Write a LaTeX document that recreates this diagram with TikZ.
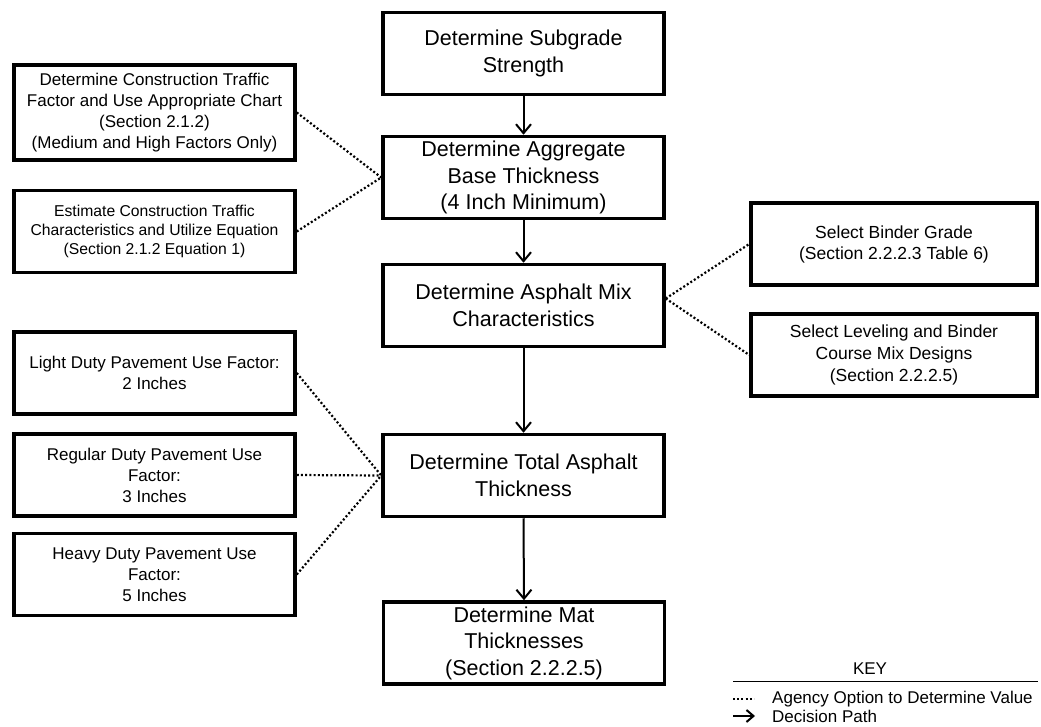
\documentclass[tikz,border=0pt]{standalone}
\usepackage{fontspec}
\setmainfont{Liberation Sans}
\usetikzlibrary{arrows.meta,calc}
\tikzset{
  mainbox/.style={draw, line width=3.5pt, minimum width=281pt, minimum height=82pt, align=center, inner sep=0pt,
    font=\fontsize{21.5}{26.5}\selectfont},
  sidebox/.style={draw, line width=3.5pt, minimum width=281pt, minimum height=82pt, align=center, inner sep=0pt,
    font=\fontsize{17}{21}\selectfont},
  optline/.style={line width=2.2pt, dash pattern=on 2pt off 2.2pt},
  pathline/.style={line width=2pt, -{Straight Barb[length=9pt,width=15pt]}},
  keytext/.style={anchor=west, inner sep=0pt, font=\fontsize{17}{20}\selectfont}
}
\begin{document}
\begin{tikzpicture}[x=1pt,y=-1pt]
\fill[white] (0,0) rectangle (1041,727);
\useasboundingbox (0,0) rectangle (1041,727);

% main column
\node[mainbox] (sub) at (523.5,53.5) {Determine Subgrade\\Strength};
\node[mainbox] (agg) at (523.5,177.5) {Determine Aggregate\\Base Thickness\\(4 Inch Minimum)};
\node[mainbox] (mix) at (523.5,305.5) {Determine Asphalt Mix\\Characteristics};
\node[mainbox] (tot) at (523.5,475.5) {Determine Total Asphalt\\Thickness};
\node[mainbox] (mat) at (524,643) {Determine Mat\\Thicknesses\\(Section 2.2.2.5)};

% left column
\node[sidebox, minimum height=95pt] (ctf) at (154.5,112.5) {Determine Construction Traffic\\Factor and Use Appropriate Chart\\(Section 2.1.2)\\(Medium and High Factors Only)};
\node[sidebox, font=\fontsize{15.7}{19}\selectfont] (ect) at (154.5,231.5) {Estimate Construction Traffic\\Characteristics and Utilize Equation\\(Section 2.1.2 Equation 1)};
\node[sidebox] (light) at (154.5,373) {Light Duty Pavement Use Factor:\\2 Inches};
\node[sidebox] (reg) at (154.5,475) {Regular Duty Pavement Use\\Factor:\\3 Inches};
\node[sidebox] (heavy) at (154.5,574.5) {Heavy Duty Pavement Use\\Factor:\\5 Inches};

% right column
\node[sidebox, minimum width=286pt, font=\fontsize{17.5}{21}\selectfont] (bind) at (894,244) {Select Binder Grade\\(Section 2.2.2.3 Table 6)};
\node[sidebox, minimum width=286pt, font=\fontsize{17.5}{22}\selectfont] (lev) at (894,355) {Select Leveling and Binder\\Course Mix Designs\\(Section 2.2.2.5)};

% decision path
\draw[pathline] (sub) -- (agg);
\draw[pathline] (agg) -- (mix);
\draw[pathline] (mix) -- (tot);
\draw[pathline] (tot.south) -- (mat.north);

% agency options
\coordinate (mixr) at ($(mix.east)+(0,-7)$);
\draw[optline] (ctf.east) -- (agg.west);
\draw[optline] (ect.east) -- (agg.west);
\draw[optline] (mixr) -- (bind.west);
\draw[optline] (mixr) -- (lev.west);
\draw[optline] (light.east) -- (tot.west);
\draw[optline] (reg.east) -- (tot.west);
\draw[optline] (heavy.east) -- (tot.west);

% key
\node[inner sep=0pt, font=\fontsize{17}{20}\selectfont] (keyt) at (870,669) {KEY};
\coordinate (kl) at (733,681);
\coordinate (kr) at (1038,681);
\draw[line width=1pt] (kl) -- (kr);
\coordinate (d1) at (733,699);
\coordinate (d2) at (754,699);
\draw[optline] (d1) -- (d2);
\node[keytext] (ktxt1) at (772,699) {Agency Option to Determine Value};
\coordinate (a1) at (733,716);
\coordinate (a2) at (755,716);
\draw[line width=2pt, -{Straight Barb[length=7pt,width=12pt]}] (a1) -- (a2);
\node[keytext] (ktxt2) at (772,716) {Decision Path};
\end{tikzpicture}
\end{document}
